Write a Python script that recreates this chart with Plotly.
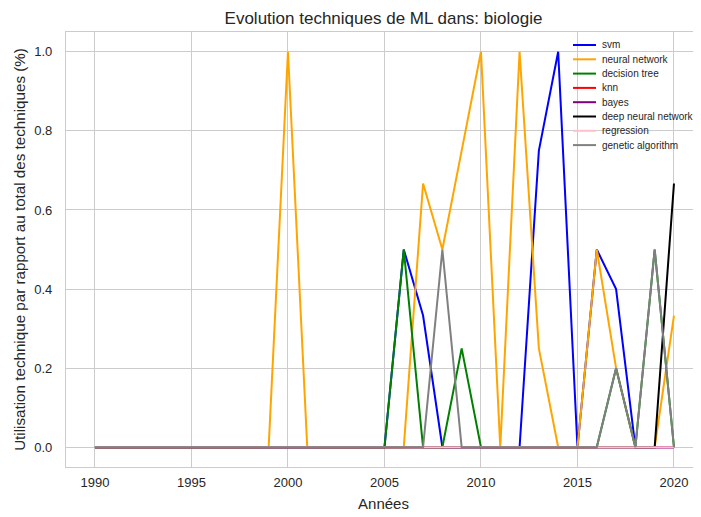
import plotly.graph_objects as go

# ---------------- data ----------------
years = list(range(1990, 2021))

svm = [0, 0, 0, 0, 0, 0, 0, 0, 0, 0,
       0, 0, 0, 0, 0, 0, 0.5, 0.333, 0, 0,
       0, 0, 0, 0.75, 1.0, 0, 0.5, 0.4, 0, 0,
       0]
neural_network = [0, 0, 0, 0, 0, 0, 0, 0, 0, 0,
                  1.0, 0, 0, 0, 0, 0, 0, 0.667, 0.5, 0.75,
                  1.0, 0, 1.0, 0.25, 0, 0, 0.5, 0.2, 0, 0,
                  0.333]
decision_tree = [0, 0, 0, 0, 0, 0, 0, 0, 0, 0,
                 0, 0, 0, 0, 0, 0, 0.5, 0, 0, 0.25,
                 0, 0, 0, 0, 0, 0, 0, 0.2, 0, 0.5,
                 0]
knn = [0, 0, 0, 0, 0, 0, 0, 0, 0, 0,
       0, 0, 0, 0, 0, 0, 0, 0, 0, 0,
       0, 0, 0, 0, 0, 0, 0, 0, 0, 0,
       0]
bayes = [0, 0, 0, 0, 0, 0, 0, 0, 0, 0,
         0, 0, 0, 0, 0, 0, 0, 0, 0, 0,
         0, 0, 0, 0, 0, 0, 0, 0, 0, 0,
         0]
deep_neural_network = [0, 0, 0, 0, 0, 0, 0, 0, 0, 0,
                       0, 0, 0, 0, 0, 0, 0, 0, 0, 0,
                       0, 0, 0, 0, 0, 0, 0, 0, 0, 0,
                       0.667]
regression = [0, 0, 0, 0, 0, 0, 0, 0, 0, 0,
              0, 0, 0, 0, 0, 0, 0, 0, 0, 0,
              0, 0, 0, 0, 0, 0, 0, 0, 0, 0,
              0]
genetic_algorithm = [0, 0, 0, 0, 0, 0, 0, 0, 0, 0,
                     0, 0, 0, 0, 0, 0, 0, 0, 0.5, 0,
                     0, 0, 0, 0, 0, 0, 0, 0.2, 0, 0.5,
                     0]

series_names = ["svm", "neural network", "decision tree", "knn", "bayes",
                "deep neural network", "regression", "genetic algorithm"]
series_values = [svm, neural_network, decision_tree, knn, bayes,
                 deep_neural_network, regression, genetic_algorithm]
series_colors = ["#0000ff", "#ffa500", "#008000", "#ff0000", "#800080",
                 "#000000", "#ffc0cb", "#808080"]

x_ticks = [1990, 1995, 2000, 2005, 2010, 2015, 2020]
y_ticks = [0.0, 0.2, 0.4, 0.6, 0.8, 1.0]

title_text = "Evolution techniques de ML dans: biologie"
x_title = "Années"
y_title = "Utilisation technique par rapport au total des techniques (%)"

# ---------------- layout constants (page pixels) ----------------
PAGE_W, PAGE_H = 701, 517
OFF = 8                      # default body margin of the html page
W, H = PAGE_W - OFF, PAGE_H - OFF
# desired plot-area edges in page pixels
PL, PR, PT, PB = 66, 701, 32, 467
ML, MR, MT, MB = PL - OFF, PAGE_W - PR, PT - OFF, PAGE_H - PB
FONT = "Liberation Sans, Arial, sans-serif"
TXT = "#262626"
GRID = "#cccccc"

fig = go.Figure()
for name, vals, color in zip(series_names, series_values, series_colors):
    fig.add_trace(go.Scatter(x=years, y=vals, mode="lines", name=name,
                             line=dict(color=color, width=2),
                             showlegend=False))

# manual compact legend (matplotlib-like), upper right
def paper_x(px):
    return (px - PL) / (PR - PL)

def paper_y(py):
    return (PB - py) / (PB - PT)

LEG_TOP, LEG_STEP = 45, 14.3
LEG_LINE_X0, LEG_LINE_X1, LEG_TEXT_X = 573, 596, 600
for i, (name, color) in enumerate(zip(series_names, series_colors)):
    yy = LEG_TOP + i * LEG_STEP
    fig.add_shape(type="line", xref="paper", yref="paper",
                  x0=paper_x(LEG_LINE_X0), x1=paper_x(LEG_LINE_X1),
                  y0=paper_y(yy), y1=paper_y(yy),
                  line=dict(color=color, width=2))
    fig.add_annotation(xref="paper", yref="paper", x=paper_x(LEG_TEXT_X),
                       y=paper_y(yy), text=name, showarrow=False,
                       xanchor="left", yanchor="middle",
                       font=dict(family=FONT, size=10, color=TXT))

fig.update_layout(
    width=W, height=H,
    margin=dict(l=ML, r=MR, t=MT, b=MB, autoexpand=False),
    paper_bgcolor="white", plot_bgcolor="white",
    font=dict(family=FONT, color=TXT),
    title=dict(text=title_text, x=0.5, xref="paper", xanchor="center",
               y=1 - (18 - OFF) / H, yref="container", yanchor="middle",
               font=dict(family=FONT, size=17, color=TXT)),
    xaxis=dict(range=[1988.5, 2021.4], tickvals=x_ticks,
               showgrid=True, gridcolor=GRID, gridwidth=1,
               showline=True, linecolor=GRID, linewidth=1.25, mirror=True,
               ticks="", zeroline=False, ticklabelstandoff=3,
               automargin=False,
               tickfont=dict(family=FONT, size=13, color=TXT),
               title=dict(text=x_title, standoff=9,
                          font=dict(family=FONT, size=15, color=TXT))),
    yaxis=dict(range=[-0.05, 1.05], tickvals=y_ticks, tickformat=".1f",
               showgrid=True, gridcolor=GRID, gridwidth=1,
               showline=True, linecolor=GRID, linewidth=1.25, mirror=False,
               ticks="", zeroline=False, ticklabelstandoff=10,
               automargin=False,
               tickfont=dict(family=FONT, size=13, color=TXT),
               title=dict(text=y_title, standoff=4,
                          font=dict(family=FONT, size=15.2, color=TXT))),
)

fig.write_html("out.html")
